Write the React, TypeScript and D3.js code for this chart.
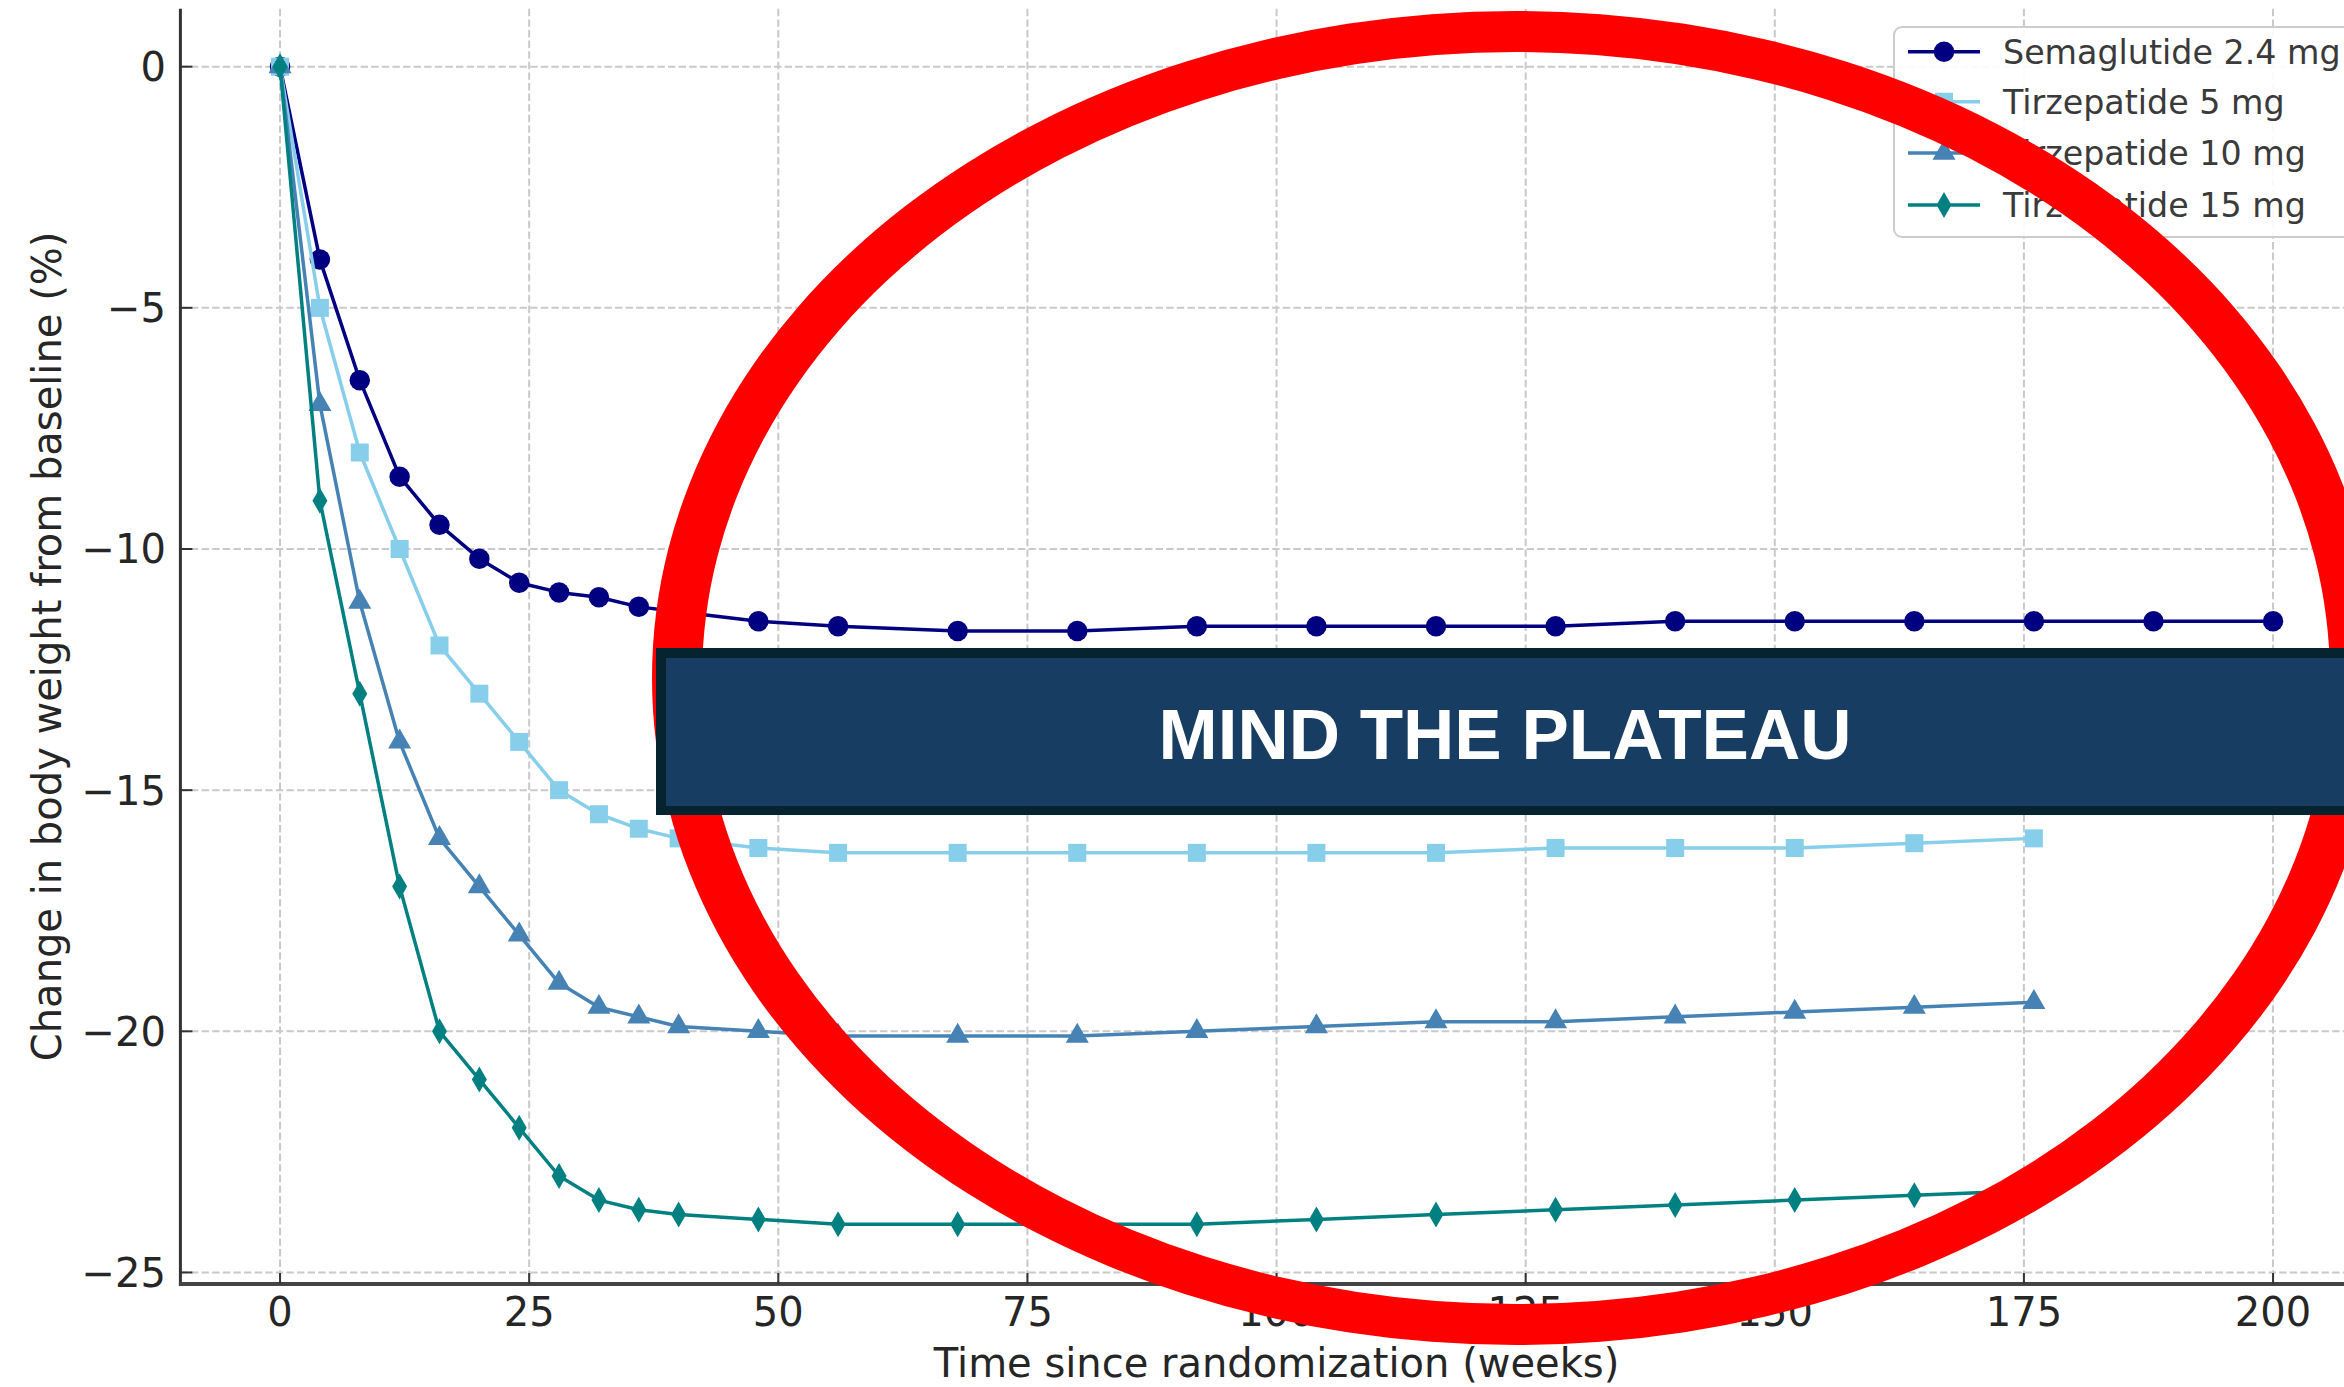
import React from "react";
import * as d3 from "d3";

const semaWeeks = [0, 4, 8, 12, 16, 20, 24, 28, 32, 36, 40, 48, 56, 68, 80, 92, 104, 116, 128, 140, 152, 164, 176, 188, 200];
const tirzWeeks = [0, 4, 8, 12, 16, 20, 24, 28, 32, 36, 40, 48, 56, 68, 80, 92, 104, 116, 128, 140, 152, 164, 176];

const sema24 = [0, -4, -6.5, -8.5, -9.5, -10.2, -10.7, -10.9, -11.0, -11.2, -11.3, -11.5, -11.6, -11.7, -11.7, -11.6, -11.6, -11.6, -11.6, -11.5, -11.5, -11.5, -11.5, -11.5, -11.5];
const tirz5 = [0, -5, -8, -10, -12, -13, -14, -15, -15.5, -15.8, -16.0, -16.2, -16.3, -16.3, -16.3, -16.3, -16.3, -16.3, -16.2, -16.2, -16.2, -16.1, -16.0];
const tirz10 = [0, -7, -11.1, -14, -16, -17, -18, -19, -19.5, -19.7, -19.9, -20.0, -20.1, -20.1, -20.1, -20.0, -19.9, -19.8, -19.8, -19.7, -19.6, -19.5, -19.4];
const tirz15 = [0, -9, -13, -17, -20, -21, -22, -23, -23.5, -23.7, -23.8, -23.9, -24.0, -24.0, -24.0, -24.0, -23.9, -23.8, -23.7, -23.6, -23.5, -23.4, -23.3];

const seriesNames = ["Semaglutide 2.4 mg", "Tirzepatide 5 mg", "Tirzepatide 10 mg", "Tirzepatide 15 mg"];
const seriesColors = ["#000080", "#87ceeb", "#4682b4", "#008080"];
const seriesMarkers = ["circle", "square", "triangle", "thindiamond"];

const xTicks = [0, 25, 50, 75, 100, 125, 150, 175, 200];
const yTicks = [0, -5, -10, -15, -20, -25];

const xLabel = "Time since randomization (weeks)";
const yLabel = "Change in body weight from baseline (%)";
const bannerText = "MIND THE PLATEAU";

const W = 2344;
const H = 1387;
const FONT = "'DejaVu Sans', 'Liberation Sans', sans-serif";

const x = d3.scaleLinear().domain([-10, 210]).range([180.4, 180.4 + 220 * 9.965]);
const y = d3.scaleLinear().domain([1.2, -25.2]).range([8.8, 1282.1]);

function markerPath(kind: string): string {
  if (kind === "circle") return d3.symbol(d3.symbolCircle, 330)() as string;
  if (kind === "square") return d3.symbol(d3.symbolSquare, 324)() as string;
  if (kind === "triangle") return d3.symbol(d3.symbolTriangle, 230)() as string;
  const h = 13, w = 7.5;
  return `M0,${-h}L${w},0L0,${h}L${-w},0Z`;
}

function ellipsePath(cx: number, cy: number, rx: number, ry: number): string {
  return `M${cx - rx},${cy}A${rx},${ry} 0 1,0 ${cx + rx},${cy}A${rx},${ry} 0 1,0 ${cx - rx},${cy}Z`;
}

export default function App() {
  const series = [
    { weeks: semaWeeks, vals: sema24 },
    { weeks: tirzWeeks, vals: tirz5 },
    { weeks: tirzWeeks, vals: tirz10 },
    { weeks: tirzWeeks, vals: tirz15 },
  ];
  const line = d3
    .line<[number, number]>()
    .x((d) => x(d[0]))
    .y((d) => y(d[1]));

  const left = x.range()[0];
  const right = x.range()[1];
  const top = y.range()[0];
  const bottom = 1284;

  const legendRows = [51.7, 101.7, 153, 205];

  const ring = ellipsePath(1516, 678, 864, 667) + ellipsePath(1516, 678, 814, 626);

  return (
    <svg
      width={W}
      height={H}
      style={{ position: "absolute", left: 0, top: 0, background: "#fff" }}
      xmlns="http://www.w3.org/2000/svg"
    >
      <defs>
        <clipPath id="axclip">
          <rect x={left} y={top - 14} width={right - left} height={bottom - top + 14} />
        </clipPath>
      </defs>
      <rect x={0} y={0} width={W} height={H} fill="#ffffff" />

      {/* grid */}
      <g stroke="#c9c9c9" strokeWidth={2} strokeDasharray="7.4,3.2" fill="none">
        {xTicks.map((t) => (
          <line key={"gx" + t} x1={x(t)} x2={x(t)} y1={top} y2={bottom} />
        ))}
        {yTicks.map((t) => (
          <line key={"gy" + t} x1={left} x2={right} y1={y(t)} y2={y(t)} />
        ))}
      </g>

      {/* series */}
      <g clipPath="url(#axclip)">
        {series.map((s, i) => {
          const pts: [number, number][] = s.weeks.map((w, j) => [w, s.vals[j]]);
          return (
            <g key={"s" + i}>
              <path d={line(pts) as string} fill="none" stroke={seriesColors[i]} strokeWidth={3.5} strokeLinejoin="round" />
              {pts.map((p, j) => (
                <path
                  key={j}
                  d={markerPath(seriesMarkers[i])}
                  transform={`translate(${x(p[0])},${y(p[1])})`}
                  fill={seriesColors[i]}
                />
              ))}
            </g>
          );
        })}
      </g>

      {/* legend */}
      <g>
        <rect x={1894} y={27} width={520} height={210} rx={8} fill="#ffffff" fillOpacity={0.9} stroke="#cccccc" strokeWidth={2} />
        {seriesNames.map((name, i) => (
          <g key={name}>
            <line x1={1908} x2={1980} y1={legendRows[i]} y2={legendRows[i]} stroke={seriesColors[i]} strokeWidth={3.5} />
            <path d={markerPath(seriesMarkers[i])} transform={`translate(1944,${legendRows[i]})`} fill={seriesColors[i]} />
            <text x={2003} y={legendRows[i]} dy="0.36em" fontFamily={FONT} fontSize={33.3} fill="#3a3a3a">
              {name}
            </text>
          </g>
        ))}
      </g>

      {/* spines */}
      <line x1={left} x2={left} y1={top} y2={bottom + 2} stroke="#333333" strokeWidth={3} />
      <line x1={left - 1.5} x2={right} y1={bottom} y2={bottom} stroke="#444444" strokeWidth={4} />

      {/* ticks */}
      <g stroke="#333333" strokeWidth={2}>
        {yTicks.map((t) => (
          <line key={"ty" + t} x1={left} x2={left + 12} y1={y(t)} y2={y(t)} />
        ))}
        {xTicks.map((t) => (
          <line key={"tx" + t} x1={x(t)} x2={x(t)} y1={bottom} y2={bottom - 11} />
        ))}
      </g>

      {/* tick labels */}
      <g fontFamily={FONT} fontSize={40} fill="#262626">
        {yTicks.map((t) => (
          <text key={"ly" + t} x={166} y={y(t)} dy="0.36em" textAnchor="end">
            {t < 0 ? "\u2212" + Math.abs(t) : String(t)}
          </text>
        ))}
        {xTicks.map((t) => (
          <text key={"lx" + t} x={x(t)} y={1326} textAnchor="middle">
            {String(t)}
          </text>
        ))}
      </g>

      {/* axis labels */}
      <text x={x(100)} y={1377} textAnchor="middle" fontFamily={FONT} fontSize={40} fill="#262626">
        {xLabel}
      </text>
      <text
        transform={`translate(61,${(top + bottom) / 2}) rotate(-90)`}
        textAnchor="middle"
        fontFamily={FONT}
        fontSize={40}
        fill="#262626"
      >
        {yLabel}
      </text>

      {/* red ring */}
      <path d={ring} fill="#ff0000" fillRule="evenodd" />

      {/* banner */}
      <rect x={656} y={648} width={1750} height={167} fill="#062330" />
      <rect x={666} y={658} width={1740} height={148} fill="#183d62" />
      <text
        x={1505}
        y={759}
        textAnchor="middle"
        fontFamily="'Liberation Sans', Arial, sans-serif"
        fontWeight="bold"
        fontSize={71}
        fill="#ffffff"
      >
        {bannerText}
      </text>
    </svg>
  );
}
